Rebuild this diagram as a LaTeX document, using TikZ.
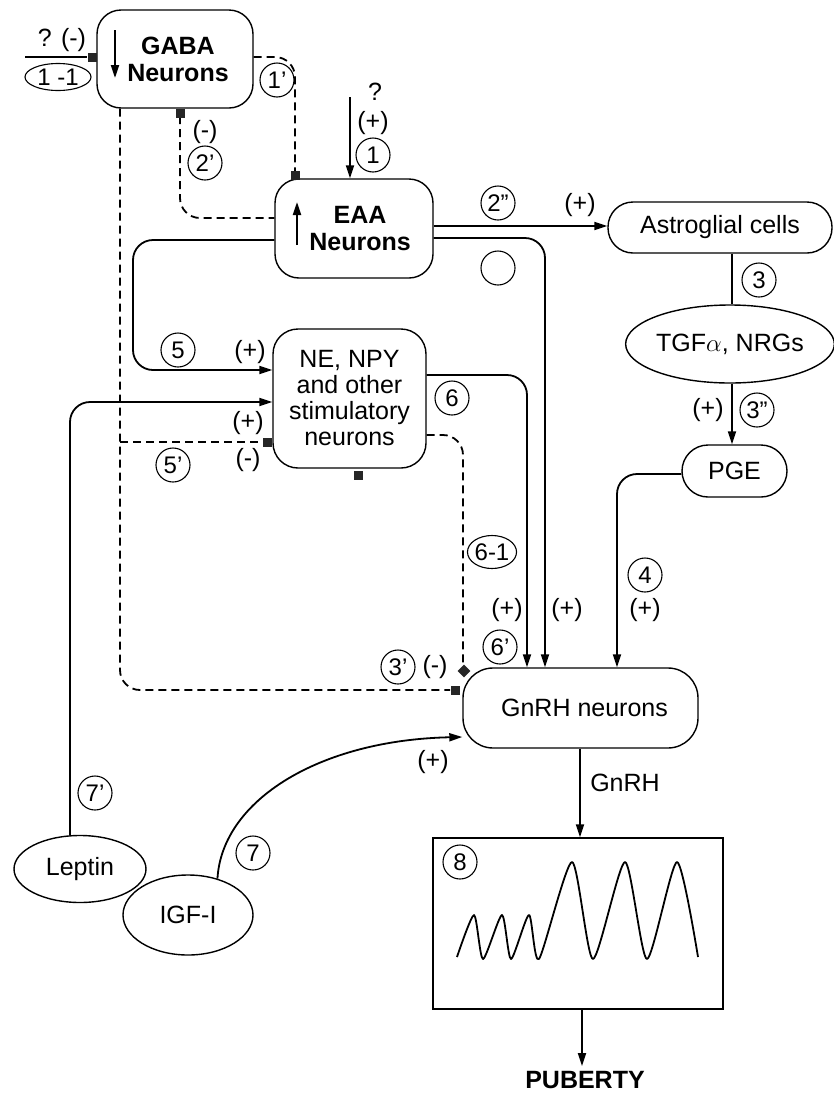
\documentclass[tikz,border=0pt]{standalone}
\usepackage{fontspec}
\setmainfont{Liberation Sans}
\usetikzlibrary{arrows.meta,shapes.geometric}
\begin{document}
\begin{tikzpicture}[x=1pt,y=-1pt, font=\fontsize{25}{26}\selectfont,
  box/.style={draw, line width=1.4pt, align=center, inner sep=0pt},
  conn/.style={line width=1.8pt, rounded corners=20pt},
  dconn/.style={line width=1.8pt, dash pattern=on 8pt off 5pt, rounded corners=20pt},
  arr/.style={-{Triangle[length=13pt,width=8pt]}},
  num/.style={circle, draw, line width=1.1pt, minimum size=34pt, inner sep=0pt, font=\fontsize{24}{24}\selectfont},
  onum/.style={ellipse, draw, line width=1.1pt, inner sep=0pt, font=\fontsize{24}{24}\selectfont},
  sq/.style={fill=black!85, minimum size=9pt, inner sep=0pt},
  lbl/.style={inner sep=0pt}]
\useasboundingbox (0,0) rectangle (834,1093);
\fill[white] (0,0) rectangle (834,1093);

% main boxes
\node[box, rounded corners=24pt, minimum width=156pt, minimum height=98pt, font=\fontsize{25}{27}\selectfont\bfseries] (gaba) at (175,59) {\hspace*{6pt}GABA\\\hspace*{6pt}Neurons};
\node[box, rounded corners=24pt, minimum width=158pt, minimum height=99pt, font=\fontsize{25}{27}\selectfont\bfseries] (eaa) at (354,228.5) {\hspace*{12pt}EAA\\\hspace*{12pt}Neurons};
\node[box, rounded corners=25pt, minimum width=153pt, minimum height=139pt] (ne) at (349.5,398.5) {NE, NPY\\and other\\stimulatory\\neurons};
\node[box, rounded corners=30pt, minimum width=235pt, minimum height=80pt] (gnrh) at (580.5,708) {\hspace*{8pt}GnRH neurons};
\node[box, rounded corners=25pt, minimum width=224pt, minimum height=51pt] (astro) at (720,227.5) {Astroglial cells};
\node[box, ellipse, minimum width=206pt, minimum height=78pt] (tgf) at (730,344) {TGF$\alpha$, NRGs};
\node[box, rounded corners=26pt, minimum width=105pt, minimum height=52pt] (pge) at (734.5,471) {PGE};
\node[box, ellipse, minimum width=132pt, minimum height=67pt] (leptin) at (80,869) {Leptin};
\node[box, ellipse, minimum width=130pt, minimum height=80pt] (igf) at (188,915) {IGF-I};
\node[draw, line width=1.5pt, minimum width=290pt, minimum height=171pt, inner sep=0pt] (pulse) at (578,923.5) {};
\node[lbl, inner ysep=5pt, font=\fontsize{25}{26}\selectfont\bfseries] (puberty) at (585,1080) {PUBERTY};

% free ends
\coordinate (in11) at (25,57);
\coordinate (inq) at (350,97);
\coordinate (j5) at (120,442);

% dashed (inhibitory) connectors
\draw[dconn] (gaba.east |- 0,57) -- (295,57) -- (295,172);
\draw[dconn] (180,116) -- (180,218) -- (eaa.west |- 0,218);
\draw[dconn] (gaba.south -| 120,0) -- (120,690) -- (450,690);
\draw[dconn, rounded corners=0pt] (j5) -- (263,442);
\draw[dconn] (ne.east |- 0,435) -- (463,435) -- (463,668);

% markers
\node[sq] (s11) at (92,57) {};
\node[sq] (s1p) at (295,175) {};
\node[sq] (s2p) at (180,113) {};
\node[sq] (s5p) at (267,442) {};
\node[sq] (s3p) at (455,690) {};
\node[sq] (sne) at (358,475) {};
\node[sq, rotate=45, minimum size=9pt] (d61) at (464,671) {};

% solid connectors
\draw[conn] (in11) -- (s11.west);
\draw[conn,arr] (inq) -- (eaa.north -| 350,0);
\draw[conn,arr] (eaa.east |- 0,226) -- (astro.west |- 0,226);
\draw[conn,arr] (eaa.east |- 0,238) -- (545,238) -- (gnrh.north -| 545,0);
\draw[conn,arr] (eaa.west |- 0,240) -- (133,240) -- (133,370) -- (ne.west |- 0,370);
\draw[conn,arr] (leptin.north -| 70,0) -- (70,402) -- (ne.west |- 0,402);
\draw[conn,arr] (ne.east |- 0,375) -- (527,375) -- (gnrh.north -| 527,0);
\draw[conn,arr] (pge.west |- 0,474) -- (617,474) -- (gnrh.north -| 617,0);
\draw[conn] (astro.south -| 732,0) -- (tgf.north -| 732,0);
\draw[conn,arr] (tgf.south -| 732,0) -- (pge.north -| 732,0);
\draw[conn,arr] (igf.51) .. controls (222,800) and (320,740) .. (gnrh.west |- 0,737);
\draw[conn,arr] (gnrh.south -| 580,0) -- (pulse.north -| 580,0);
\draw[conn,arr] (pulse.south -| 582,0) -- (puberty.north -| 582,0);

% arrows inside boxes
\draw[line width=2pt, arr] (115,30) -- (115,78);
\draw[line width=2pt, arr] (297,245) -- (297,202);

% empty circle
\node[circle, draw, line width=1.1pt, minimum size=34pt, inner sep=0pt] (ring) at (498,268) {};

% pulse trace
\draw[line width=1.8pt, line join=round] plot[smooth, tension=0.4] coordinates {(457,957) (474,915) (483,959) (502,915) (511,959) (529,915) (539,959) (572,862) (593,959) (625,862) (647,959) (677,862) (698,957)};

% labels
\node[lbl] (lq11) at (62,40) {? (-)};
\node[onum, minimum width=66pt, minimum height=27pt] (l11) at (58,77) {1 -1};
\node[num] (n1p) at (277,80) {1’};
\node[lbl] (lq) at (375,92) {?};
\node[lbl] (lp1) at (373,123) {(+)};
\node[num] (n1) at (373,155) {1};
\node[lbl] (lm2) at (205,132) {(-)};
\node[num] (n2p) at (205,163) {2’};
\node[num] (n2pp) at (498,203) {2”};
\node[lbl] (lp2) at (580,205) {(+)};
\node[num] (n3) at (759,280) {3};
\node[lbl] (lp3) at (708,410) {(+)};
\node[num] (n3pp) at (757,410) {3”};
\node[num] (n5) at (178,350) {5};
\node[lbl] (lp5) at (250,352) {(+)};
\node[lbl] (lp7) at (248,423) {(+)};
\node[lbl] (lm5) at (248,460) {(-)};
\node[num] (n5p) at (173,465) {5’};
\node[num] (n6) at (452,398) {6};
\node[onum, minimum width=48pt, minimum height=33pt] (n61) at (492,552) {6-1};
\node[num] (n4) at (645,575) {4};
\node[lbl] (lp6) at (507,610) {(+)};
\node[lbl] (lpe) at (567,610) {(+)};
\node[lbl] (lp4) at (645,610) {(+)};
\node[num] (n6p) at (500,647) {6’};
\node[num] (n3p) at (398,667) {3’};
\node[lbl] (lm3) at (435,667) {(-)};
\node[lbl] (lpi) at (433,762) {(+)};
\node[lbl] (lgn) at (625,783) {GnRH};
\node[num] (n7p) at (95,793) {7’};
\node[num] (n7) at (253,853) {7};
\node[num] (n8) at (460,862) {8};
\end{tikzpicture}
\end{document}
